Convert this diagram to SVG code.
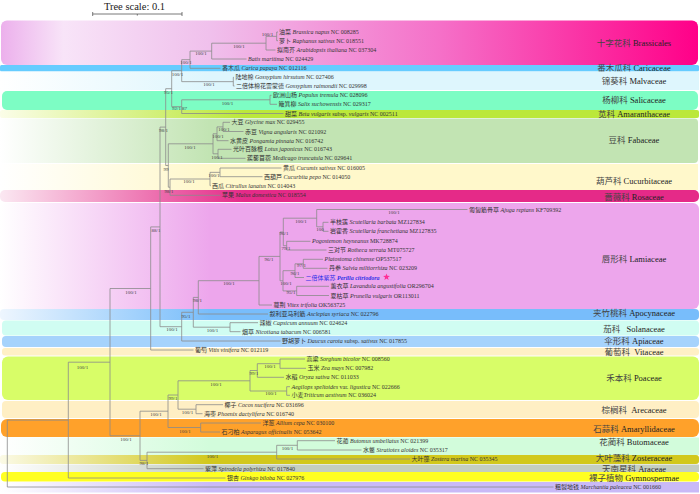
<svg xmlns="http://www.w3.org/2000/svg" width="700" height="494" viewBox="0 0 700 494">
<style>
.b{fill:none;stroke:#8a8a8a;stroke-width:0.8}
.l{font-family:"Liberation Serif","Noto Sans CJK SC",serif;font-size:6px;fill:#333}
.s{font-family:"Liberation Serif",serif;font-size:5px;fill:#444;text-anchor:middle}
.f{font-family:"Liberation Serif","Noto Sans CJK SC",serif;font-size:8.5px;fill:#222;text-anchor:middle;white-space:pre}
.c{fill:#444}
.i{font-style:italic}
</style>
<defs>
<linearGradient id="gBra" x1="0" x2="1" y1="0" y2="0"><stop offset="0" stop-color="#ecb0ec"/><stop offset="0.09" stop-color="#f8e4f8"/><stop offset="0.3" stop-color="#f0c0ec"/><stop offset="0.63" stop-color="#f570c8"/><stop offset="1" stop-color="#ff0088"/></linearGradient>
<linearGradient id="gMal" x1="0" x2="1"><stop offset="0" stop-color="#fff"/><stop offset="0.3" stop-color="#def6fd"/></linearGradient>
<linearGradient id="gAma" x1="0" x2="1"><stop offset="0" stop-color="#fbfde8"/><stop offset="0.35" stop-color="#bbe83a"/></linearGradient>
<linearGradient id="gFab" x1="0" x2="1"><stop offset="0" stop-color="#fff"/><stop offset="0.3" stop-color="#c2e4b3"/></linearGradient>
<linearGradient id="gCuc" x1="0" x2="1"><stop offset="0" stop-color="#fff"/><stop offset="0.3" stop-color="#fff8cb"/></linearGradient>
<linearGradient id="gRos" x1="0" x2="1"><stop offset="0" stop-color="#fbe8f2"/><stop offset="0.35" stop-color="#e52a88"/></linearGradient>
<linearGradient id="gLam" x1="0" x2="1"><stop offset="0" stop-color="#fff"/><stop offset="0.3" stop-color="#eda6ec"/></linearGradient>
<linearGradient id="gApo" x1="0" x2="1"><stop offset="0" stop-color="#eef6fe"/><stop offset="0.3" stop-color="#78bdfb"/></linearGradient>
<linearGradient id="gBut" x1="0" x2="1"><stop offset="0" stop-color="#fff"/><stop offset="0.3" stop-color="#d2fcdb"/></linearGradient>
<linearGradient id="gZos" x1="0" x2="1"><stop offset="0" stop-color="#fbfae6"/><stop offset="0.3" stop-color="#d2c81c"/></linearGradient>
<linearGradient id="gAra" x1="0" x2="1"><stop offset="0" stop-color="#fff"/><stop offset="0.3" stop-color="#c4cec0"/></linearGradient>
<linearGradient id="gMar" x1="0" x2="1"><stop offset="0" stop-color="#fff"/><stop offset="0.3" stop-color="#c9b9f7"/></linearGradient>
</defs>
<rect width="700" height="494" fill="#fff"/>

<g id="clades">
<g id="fam-Brassicales"><rect x="1" y="20.5" width="697" height="44.5" rx="6" fill="url(#gBra)"/><text class="f" x="634" y="46"><tspan class="c">十字花科</tspan> Brassicales</text></g>
<g id="fam-Caricaceae"><rect x="0" y="65" width="699" height="6.5" rx="1.5" fill="#66ccff"/><text class="f" x="634" y="71"><tspan class="c">番木瓜科</tspan> Caricaceae</text></g>
<g id="fam-Malvaceae"><rect x="0" y="71.5" width="699" height="18.5" fill="url(#gMal)"/><text class="f" x="634" y="83.5"><tspan class="c">锦葵科</tspan> Malvaceae</text></g>
<g id="fam-Salicaceae"><rect x="2" y="91" width="696" height="19" rx="5" fill="#7dfdc4"/><text class="f" x="634" y="103"><tspan class="c">杨柳科</tspan> Salicaceae</text></g>
<g id="fam-Amaranthaceae"><rect x="0" y="110" width="699" height="8" rx="2" fill="url(#gAma)"/><text class="f" x="634" y="116.5"><tspan class="c">苋科</tspan> Amaranthaceae</text></g>
<g id="fam-Fabaceae"><rect x="0" y="118.5" width="698" height="44.5" rx="4" fill="url(#gFab)"/><text class="f" x="634" y="142.5"><tspan class="c">豆科</tspan> Fabaceae</text></g>
<g id="fam-Cucurbitaceae"><rect x="0" y="164" width="698" height="26" fill="url(#gCuc)"/><text class="f" x="634" y="184"><tspan class="c">葫芦科</tspan> Cucurbitaceae</text></g>
<g id="fam-Rosaceae"><rect x="0" y="190" width="699" height="12" rx="5" fill="url(#gRos)"/><text class="f" x="634" y="199.7"><tspan class="c">蔷薇科</tspan> Rosaceae</text></g>
<g id="fam-Lamiaceae"><rect x="0" y="203" width="699" height="106" rx="6" fill="url(#gLam)"/><text class="f" x="634" y="262.3"><tspan class="c">唇形科</tspan> Lamiaceae</text></g>
<g id="fam-Apocynaceae"><rect x="0" y="309" width="699" height="11" rx="4" fill="url(#gApo)"/><text class="f" x="634" y="315.8"><tspan class="c">夹竹桃科</tspan> Apocynaceae</text></g>
<g id="fam-Solanaceae"><rect x="2" y="320.5" width="697" height="15" rx="4" fill="#d0fdf2"/><text class="f" x="634" y="332"><tspan class="c">茄科</tspan>   Solanaceae</text></g>
<g id="fam-Apiaceae"><rect x="2" y="336" width="697" height="11" rx="4" fill="#a6d3fc"/><text class="f" x="634" y="344"><tspan class="c">伞形科</tspan> Apiaceae</text></g>
<g id="fam-Vitaceae"><rect x="2" y="348" width="697" height="7.5" rx="3" fill="#fff0c6"/><text class="f" x="634" y="355.3"><tspan class="c">葡萄科</tspan>  Vitaceae</text></g>
<g id="fam-Poaceae"><rect x="2" y="356.5" width="697" height="43.5" rx="6" fill="#d8fd68"/><text class="f" x="634" y="380.7"><tspan class="c">禾本科</tspan> Poaceae</text></g>
<g id="fam-Arecaceae"><rect x="2" y="401" width="697" height="17" rx="4" fill="#ffefc4"/><text class="f" x="634" y="413"><tspan class="c">棕榈科</tspan>  Arecaceae</text></g>
<g id="fam-Amaryllidaceae"><rect x="1" y="419" width="698" height="18" rx="6" fill="#ffa12a"/><text class="f" x="634" y="431.5"><tspan class="c">石蒜科</tspan> Amaryllidaceae</text></g>
<g id="fam-Butomaceae"><rect x="0" y="437.5" width="699" height="17.5" fill="url(#gBut)"/><text class="f" x="634" y="445.3"><tspan class="c">花蔺科</tspan> Butomaceae</text></g>
<g id="fam-Zosteraceae"><rect x="0" y="455" width="699" height="9" rx="3" fill="url(#gZos)"/><text class="f" x="634" y="461.3"><tspan class="c">大叶藻科</tspan> Zosteraceae</text></g>
<g id="fam-Araceae"><rect x="0" y="464.5" width="699" height="7.5" fill="url(#gAra)"/><text class="f" x="634" y="471.7"><tspan class="c">天南星科</tspan> Araceae</text></g>
<g id="fam-Gymnospermae"><rect x="1" y="472" width="698" height="9.5" rx="4" fill="#ffff22"/><text class="f" x="634" y="480.8"><tspan class="c">裸子植物</tspan> Gymnospermae</text></g>
<g id="fam-Marchantia"><rect x="0" y="482" width="699" height="10.5" fill="url(#gMar)"/></g>
</g>

<g id="scale">
<path d="M92.7 14H182M92.7 12V16M137.3 14V15.6M182 12V16" fill="none" stroke="#555" stroke-width="0.8"/>
<text x="134.5" y="10" font-family="Liberation Serif,serif" font-size="10.5" fill="#222" text-anchor="middle">Tree scale: 0.1</text>
</g>

<g id="connectors" class="b">
<path d="M278 32H276.7V40.7H278"/>
<path d="M276.7 36.35H266V50H275.5"/>
<path d="M266 43.2H211.7V59H246.5"/>
<path d="M211.7 51.1H190V68.3H220.5"/>
<path d="M234 77.3H233.3V86H234.5"/>
<path d="M190 59.7H181.7V81.65H233.3"/>
<path d="M271.5 95.3H270V104.3H277"/>
<path d="M270 99.8H181.7V113.5H283.5"/>
<path d="M181.7 70.7H171.7V106.65H181.7"/>
<path d="M230 122.3H223V131.5H243.5"/>
<path d="M223 126.9H217V140.7H228.5"/>
<path d="M231.5 149.3H218V158.3H245.5"/>
<path d="M217 133.8H213V153.8H218"/>
<path d="M281.5 168H220V176.7H262.5"/>
<path d="M220 172.35H210V185.7H210.8"/>
<path d="M210 179H170V195.3H220.5"/>
<path d="M213 143.8H168.3V187.2H170"/>
<path d="M171.7 88.7H165.7V165.5H168.3"/>
<path d="M328.5 222.3H323V231.3H328.5"/>
<path d="M467.5 209.5H316.7V226.8H323"/>
<path d="M310.5 241.3H286.7V250H326.5"/>
<path d="M316.7 218.2H283.3V245.7H286.7"/>
<path d="M323 259.3H303.3V268.3H327.5"/>
<path d="M303.3 263.8H295V277.5H304"/>
<path d="M329 286.3H296.7V295.5H329"/>
<path d="M295 270.7H283V290.9H296.7"/>
<path d="M283.3 232H280V280.8H283"/>
<path d="M280 256.4H259V305H272"/>
<path d="M259 280.7H198.3V314H268"/>
<path d="M258 322.7H230V331.7H240.5"/>
<path d="M198.3 297.4H193.3V327.2H230"/>
<path d="M193.3 312.3H181.7V341H280.5"/>
<path d="M165.7 127.1H160V326.7H181.7"/>
<path d="M160 226.9H150.7V350H193.5"/>
<path d="M305 359H280V368.3H306"/>
<path d="M280 363.7H257.3V377.3H284"/>
<path d="M290 386.7H286.7V395.3H290"/>
<path d="M257.3 370.5H250V391H286.7"/>
<path d="M223 404.7H196V413.7H202.5"/>
<path d="M250 380.8H178V409.2H196"/>
<path d="M261 423H200.7V432H220"/>
<path d="M178 395H168V427.5H200.7"/>
<path d="M335 440.7H297.3V450H361.5"/>
<path d="M297.3 445.3H276.7V459H410"/>
<path d="M276.7 452.2H147V468.7H203.5"/>
<path d="M168 411.2H140V460.4H147"/>
<path d="M150.7 288.5H110V435.8H140"/>
<path d="M110 362.2H68.3V478H225.5"/>
<path d="M68.3 420.1H7.3V487H553.5"/>
</g>

<g id="supports">
<text class="s" x="267.5" y="35.8">100/1</text>
<text class="s" x="239" y="47.5">100/1</text>
<text class="s" x="201" y="54.8">100/1</text>
<text class="s" x="186" y="63.8">100/1</text>
<text class="s" x="177.5" y="75.8">100/1</text>
<text class="s" x="209" y="85.8">100/1</text>
<text class="s" x="227.5" y="104.5">100/1</text>
<text class="s" x="176.5" y="109.8">92/1</text>
<text class="s" x="184.5" y="109.8">87</text>
<text class="s" x="168.5" y="93.8">95/1</text>
<text class="s" x="163.5" y="131.8">98/1</text>
<text class="s" x="224" y="131.1">100/1</text>
<text class="s" x="218" y="137.8">100/1</text>
<text class="s" x="217" y="158.5">100/1</text>
<text class="s" x="190" y="149.1">100/1</text>
<text class="s" x="214" y="176.8">100/1</text>
<text class="s" x="189" y="182.8">100/1</text>
<text class="s" x="166" y="170.8">99</text>
<text class="s" x="169" y="192.8">98/1</text>
<text class="s" x="394" y="213.8">100/1</text>
<text class="s" x="301" y="222.8">100/1</text>
<text class="s" x="320" y="230.8">100</text>
<text class="s" x="284" y="234.8">96/1</text>
<text class="s" x="286" y="249.8">79/1</text>
<text class="s" x="269" y="260.8">96/1</text>
<text class="s" x="301.5" y="266.8">97/1</text>
<text class="s" x="295" y="274.8">96/1</text>
<text class="s" x="286" y="284.8">100/1</text>
<text class="s" x="291" y="293.5">95/1</text>
<text class="s" x="229" y="284.8">100/1</text>
<text class="s" x="197.5" y="301.8">98/1</text>
<text class="s" x="186" y="317.8">95/1</text>
<text class="s" x="212.5" y="331.8">100/1</text>
<text class="s" x="172" y="330.8">100/1</text>
<text class="s" x="156" y="231.8">88/1</text>
<text class="s" x="131" y="293.8">100/1</text>
<text class="s" x="82.5" y="368.8">100/1</text>
<text class="s" x="270" y="367.8">100/1</text>
<text class="s" x="254" y="374.8">99/1</text>
<text class="s" x="216" y="385.8">100/1</text>
<text class="s" x="271" y="395.1">100/1</text>
<text class="s" x="187.5" y="413.8">100/1</text>
<text class="s" x="173" y="399.5">99/1</text>
<text class="s" x="185" y="432.5">100/1</text>
<text class="s" x="156" y="415.8">100/1</text>
<text class="s" x="126" y="440.8">100/1</text>
<text class="s" x="287.5" y="449.8">100/1</text>
<text class="s" x="212.5" y="457.8">100/1</text>
<text class="s" x="144" y="464.8">98/1</text>
</g>

<g id="leaves">
<g id="n01"><text class="l" x="279" y="34.1">油菜 <tspan class="i">Brassica napus</tspan> NC 008285</text></g>
<g id="n02"><text class="l" x="279" y="42.8">萝卜 <tspan class="i">Raphanus sativus</tspan> NC 018551</text></g>
<g id="n03"><text class="l" x="277" y="52.1">拟南芥 <tspan class="i">Arabidopsis thaliana</tspan> NC 037304</text></g>
<g id="n04"><text class="l" x="248" y="61.1"><tspan class="i">Batis maritima</tspan> NC 024429</text></g>
<g id="n05"><text class="l" x="222" y="70.4">番木瓜 <tspan class="i">Carica papaya</tspan> NC 012116</text></g>
<g id="n06"><text class="l" x="235.5" y="79.4">陆地棉 <tspan class="i">Gossypium hirsutum</tspan> NC 027406</text></g>
<g id="n07"><text class="l" x="236" y="88.1">二倍体棉花雷蒙德 <tspan class="i">Gossypium raimondii</tspan> NC 029998</text></g>
<g id="n08"><text class="l" x="273" y="97.4">欧洲山杨 <tspan class="i">Populus tremula</tspan> NC 028096</text></g>
<g id="n09"><text class="l" x="278.5" y="106.4">簸箕柳 <tspan class="i">Salix suchowensis</tspan>  NC 029317</text></g>
<g id="n10"><text class="l" x="285" y="115.6">甜菜 <tspan class="i">Beta vulgaris</tspan> subsp. <tspan class="i">vulgaris</tspan> NC 002511</text></g>
<g id="n11"><text class="l" x="231.5" y="124.4">大豆 <tspan class="i">Glycine max</tspan> NC 029455</text></g>
<g id="n12"><text class="l" x="245" y="133.6">赤豆 <tspan class="i">Vigna angularis</tspan> NC 021092</text></g>
<g id="n13"><text class="l" x="230" y="142.8">水黄皮 <tspan class="i">Pongamia pinnata</tspan> NC 016742</text></g>
<g id="n14"><text class="l" x="233" y="151.4">光叶百脉根 <tspan class="i">Lotus japonicus</tspan> NC 016743</text></g>
<g id="n15"><text class="l" x="247" y="160.4">蒺藜苜蓿 <tspan class="i">Medicago truncatula</tspan> NC 029641</text></g>
<g id="n16"><text class="l" x="283" y="170.1">黄瓜 <tspan class="i">Cucumis sativus</tspan> NC 016005</text></g>
<g id="n17"><text class="l" x="264" y="178.8">西葫芦 <tspan class="i">Cucurbita pepo</tspan> NC 014050</text></g>
<g id="n18"><text class="l" x="212" y="187.8">西瓜 <tspan class="i">Citrullus lanatus</tspan> NC 014043</text></g>
<g id="n19"><text class="l" x="222" y="197.4">苹果 <tspan class="i">Malus domestica</tspan> NC 018554</text></g>
<g id="n20"><text class="l" x="469" y="211.6">匍匐筋骨草 <tspan class="i">Ajuga reptans</tspan> KF709392</text></g>
<g id="n21"><text class="l" x="330" y="224.4">半枝莲 <tspan class="i">Scutellaria barbata</tspan> MZ127834</text></g>
<g id="n22"><text class="l" x="330" y="233.4">岩霍香 <tspan class="i">Scutellaria franchetiana</tspan> MZ127835</text></g>
<g id="n23"><text class="l" x="312" y="243.4"><tspan class="i">Pogostemon heyneanus</tspan> MK728874</text></g>
<g id="n24"><text class="l" x="328" y="252.1">三对节 <tspan class="i">Rotheca serrata</tspan> MT075727</text></g>
<g id="n25"><text class="l" x="324.5" y="261.4"><tspan class="i">Platostoma chinense</tspan> OP537517</text></g>
<g id="n26"><text class="l" x="329" y="270.4">丹参 <tspan class="i">Salvia miltiorrhiza</tspan> NC 023209</text></g>
<g id="n27"><text class="l" x="305.5" y="279.6" style="fill:#3030e8">二倍体紫苏 <tspan class="i" font-weight="bold">Perilla citriodora</tspan></text><polygon points="386.5,273.4 387.35,275.83 389.92,275.89 387.88,277.45 388.62,279.91 386.5,278.45 384.38,279.91 385.12,277.45 383.08,275.89 385.65,275.83" fill="#ff2d95"/></g>
<g id="n28"><text class="l" x="330.5" y="288.4">薰衣草 <tspan class="i">Lavandula angustifolia</tspan> OR296704</text></g>
<g id="n29"><text class="l" x="330.5" y="297.6">夏枯草 <tspan class="i">Prunella vulgaris</tspan> OR113011</text></g>
<g id="n30"><text class="l" x="273.5" y="307.1">蔓荆 <tspan class="i">Vitex trifolia</tspan> OK563725</text></g>
<g id="n31"><text class="l" x="269.5" y="316.1">叙利亚马利筋 <tspan class="i">Asclepias syriaca</tspan> NC 022796</text></g>
<g id="n32"><text class="l" x="259.5" y="324.8">辣椒 <tspan class="i">Capsicum annuum</tspan> NC 024624</text></g>
<g id="n33"><text class="l" x="242" y="333.8">烟草 <tspan class="i">Nicotiana tabacum</tspan> NC 006581</text></g>
<g id="n34"><text class="l" x="282" y="343.1">野胡萝卜 <tspan class="i">Daucus carota</tspan> subsp. <tspan class="i">sativus</tspan> NC 017855</text></g>
<g id="n35"><text class="l" x="195" y="352.1">葡萄 <tspan class="i">Vitis vinifera</tspan> NC 012119</text></g>
<g id="n36"><text class="l" x="306.5" y="361.1">高粱 <tspan class="i">Sorghum bicolor</tspan> NC 008560</text></g>
<g id="n37"><text class="l" x="307.5" y="370.4">玉米 <tspan class="i">Zea mays</tspan> NC 007982</text></g>
<g id="n38"><text class="l" x="285.5" y="379.4">水稻 <tspan class="i">Oryza sativa</tspan> NC 011033</text></g>
<g id="n39"><text class="l" x="291.5" y="388.8"><tspan class="i">Aegilops speltoides</tspan> var. <tspan class="i">ligustica</tspan> NC 022666</text></g>
<g id="n40"><text class="l" x="291.5" y="397.4">小麦<tspan class="i">Triticum aestivum</tspan> NC 036024</text></g>
<g id="n41"><text class="l" x="224.5" y="406.8">椰子 <tspan class="i">Cocos nucifera</tspan> NC 031696</text></g>
<g id="n42"><text class="l" x="204" y="415.8">海枣 <tspan class="i">Phoenix dactylifera</tspan> NC 016740</text></g>
<g id="n43"><text class="l" x="262.5" y="425.1">洋葱 <tspan class="i">Allium cepa</tspan>  NC 030100</text></g>
<g id="n44"><text class="l" x="221.5" y="434.1">石刁柏 <tspan class="i">Asparagus officinalis</tspan>  NC 053642</text></g>
<g id="n45"><text class="l" x="336.5" y="442.8">花蔺 <tspan class="i">Butomus umbellatus</tspan> NC 021399</text></g>
<g id="n46"><text class="l" x="363" y="452.1">水鳖 <tspan class="i">Stratiotes aloides</tspan> NC 035317</text></g>
<g id="n47"><text class="l" x="411.5" y="461.1">大叶藻 <tspan class="i">Zostera marina</tspan> NC 035345</text></g>
<g id="n48"><text class="l" x="205" y="470.8">紫萍 <tspan class="i">Spirodela polyrhiza</tspan> NC 017840</text></g>
<g id="n49"><text class="l" x="227" y="480.1">银杏 <tspan class="i">Ginkgo biloba</tspan> NC 027976</text></g>
<g id="n50"><text class="l" x="555" y="489.1">粗裂地钱 <tspan class="i">Marchantia paleacea</tspan> NC 001660</text></g>
</g>
</svg>
